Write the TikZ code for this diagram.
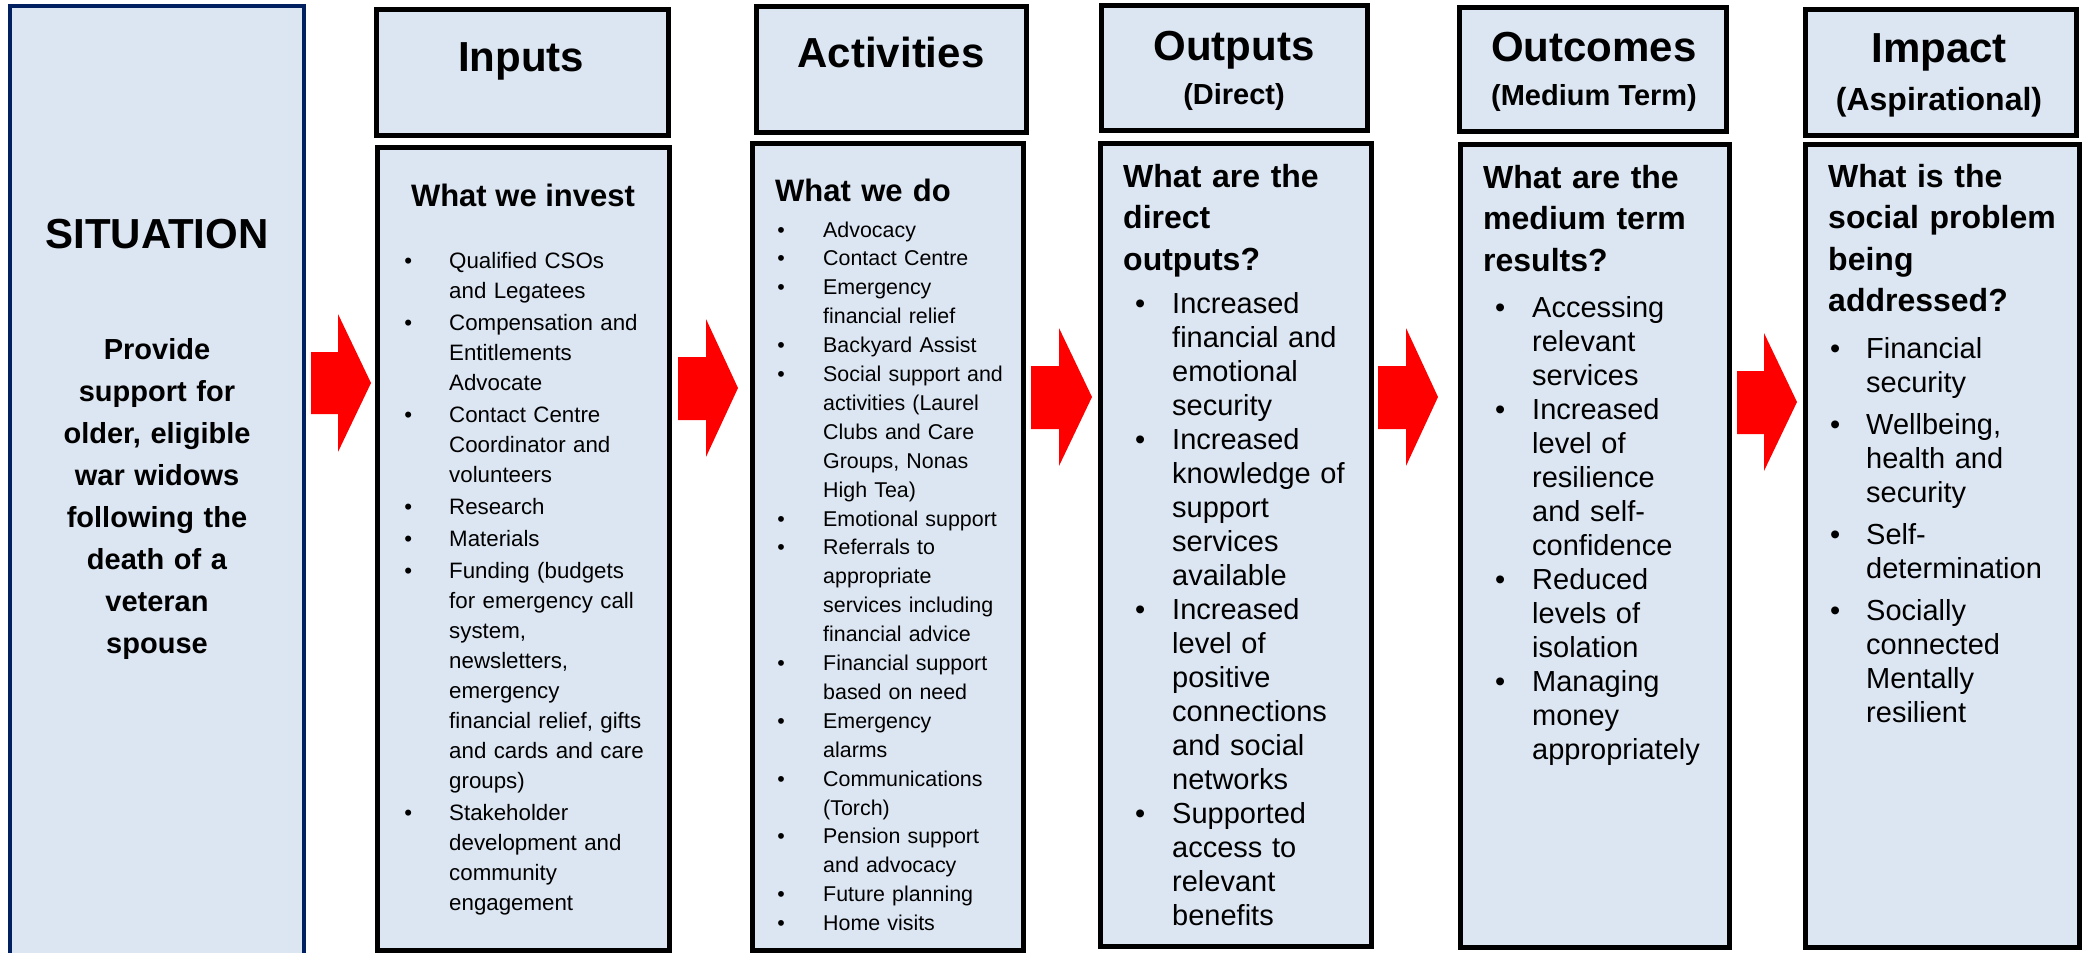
\documentclass[tikz,border=0pt]{standalone}
\usepackage{fontspec}
\setmainfont{Liberation Sans}
\definecolor{boxfill}{HTML}{DCE6F2}
\definecolor{navy}{HTML}{002060}
\definecolor{arrowred}{HTML}{FF0000}
\newcommand\fsz[2]{\fontsize{#1}{#2}\selectfont}
\newcommand\bl[1]{\leavevmode\llap{\makebox[0pt][c]{\textbullet}\hspace{#1pt}}}
\begin{document}
\begin{tikzpicture}[x=1pt,y=-1pt,
  bx/.style={draw=black,line width=5pt,fill=boxfill},
  sitbox/.style={draw=navy,line width=4pt,fill=boxfill},
  redarrow/.style={fill=arrowred,draw=none},
  head/.style={anchor=base,inner sep=0pt,font=\bfseries\fsz{42}{50}},
  sub/.style={anchor=base,inner sep=0pt,font=\bfseries\fsz{29}{34}},
  ttl/.style={anchor=base west,inner sep=0pt,text width=260pt,align=left,font=\bfseries\fsz{32}{41.5}},
  lst/.style={anchor=base west,inner sep=0pt,text width=300pt,align=left}
]
\useasboundingbox (0,0) rectangle (2089,953);
\fill[white] (0,0) rectangle (2089,953);

% boxes
\path[sitbox] (10,6) rectangle (304,990);
\path[bx] (376,9) rectangle (668,135);
\path[bx] (377,147) rectangle (669,950);
\path[bx] (756,6) rectangle (1026,132);
\path[bx] (752,143) rectangle (1023,950);
\path[bx] (1101,5) rectangle (1367,130);
\path[bx] (1100,143) rectangle (1371,946);
\path[bx] (1459,7) rectangle (1726,131);
\path[bx] (1460,144) rectangle (1729,947);
\path[bx] (1805,9) rectangle (2076,135);
\path[bx] (1805,144) rectangle (2079,947);

% arrows
\path[redarrow] (311,352) -- (338,352) -- (338,314) -- (371,383) -- (338,452) -- (338,414) -- (311,414) -- cycle;
\path[redarrow] (678,357) -- (706,357) -- (706,319) -- (738,388) -- (706,457) -- (706,420) -- (678,420) -- cycle;
\path[redarrow] (1031,366) -- (1059,366) -- (1059,328) -- (1092,397) -- (1059,466) -- (1059,429) -- (1031,429) -- cycle;
\path[redarrow] (1378,366) -- (1406,366) -- (1406,328) -- (1438,397) -- (1406,466) -- (1406,429) -- (1378,429) -- cycle;
\path[redarrow] (1737,371) -- (1764,371) -- (1764,333) -- (1797,402) -- (1764,471) -- (1764,434) -- (1737,434) -- cycle;

% situation
\node[head] (sit) at (157,248) {SITUATION};
\node[anchor=base,inner sep=0pt,text width=280pt,align=center,font=\bfseries\fsz{29}{42}] (sitText) at (157,359)
  {Provide\\support for\\older, eligible\\war widows\\following the\\death of a\\veteran\\spouse};

% headers
\node[head] (hIn) at (521,71) {Inputs};
\node[head] (hAct) at (891,67) {Activities};
\node[head] (hOut) at (1234,60) {Outputs};
\node[sub] (hOutS) at (1234,104) {(Direct)};
\node[head] (hOc) at (1594,61) {Outcomes};
\node[sub] (hOcS) at (1594,105) {(Medium Term)};
\node[head] (hIm) at (1939,62) {Impact};
\node[sub,font=\bfseries\fsz{32}{38}] (hImS) at (1939,110) {(Aspirational)};

% body titles
\node[anchor=base,inner sep=0pt,font=\bfseries\fsz{31}{40}] (tIn) at (523,206) {What we invest};
\node[ttl,font=\bfseries\fsz{31}{40}] (tAct) at (775,201) {What we do};
\node[ttl] (tOut) at (1123,187) {What are the\\direct\\outputs?};
\node[ttl] (tOc) at (1483,188) {What are the\\medium term\\results?};
\node[ttl] (tIm) at (1828,187) {What is the\\social problem\\being\\addressed?};

% lists
\node[lst,font=\fsz{22.3}{30}] (lIn) at (449,268)
  {\bl{41}Qualified CSOs\\and Legatees\\[2pt]
   \bl{41}Compensation and\\Entitlements\\Advocate\\[2pt]
   \bl{41}Contact Centre\\Coordinator and\\volunteers\\[2pt]
   \bl{41}Research\\[2pt]
   \bl{41}Materials\\[2pt]
   \bl{41}Funding (budgets\\for emergency call\\system,\\newsletters,\\emergency\\financial relief, gifts\\and cards and care\\groups)\\[2pt]
   \bl{41}Stakeholder\\development and\\community\\engagement};

\node[lst,font=\fsz{21.4}{28.9}] (lAct) at (823,237)
  {\bl{42}Advocacy\\
   \bl{42}Contact Centre\\
   \bl{42}Emergency\\financial relief\\
   \bl{42}Backyard Assist\\
   \bl{42}Social support and\\activities (Laurel\\Clubs and Care\\Groups, Nonas\\High Tea)\\
   \bl{42}Emotional support\\
   \bl{42}Referrals to\\appropriate\\services including\\financial advice\\
   \bl{42}Financial support\\based on need\\
   \bl{42}Emergency\\alarms\\
   \bl{42}Communications\\(Torch)\\
   \bl{42}Pension support\\and advocacy\\
   \bl{42}Future planning\\
   \bl{42}Home visits};

\node[lst,font=\fsz{29}{34}] (lOut) at (1172,313)
  {\bl{32}Increased\\financial and\\emotional\\security\\
   \bl{32}Increased\\knowledge of\\support\\services\\available\\
   \bl{32}Increased\\level of\\positive\\connections\\and social\\networks\\
   \bl{32}Supported\\access to\\relevant\\benefits};

\node[lst,font=\fsz{29}{34}] (lOc) at (1532,317)
  {\bl{32}Accessing\\relevant\\services\\
   \bl{32}Increased\\level of\\resilience\\and self-\\confidence\\
   \bl{32}Reduced\\levels of\\isolation\\
   \bl{32}Managing\\money\\appropriately};

\node[lst,font=\fsz{29}{34}] (lIm) at (1866,358)
  {\bl{31}Financial\\security\\[8pt]
   \bl{31}Wellbeing,\\health and\\security\\[8pt]
   \bl{31}Self-\\determination\\[8pt]
   \bl{31}Socially\\connected\\Mentally\\resilient};
\end{tikzpicture}
\end{document}
